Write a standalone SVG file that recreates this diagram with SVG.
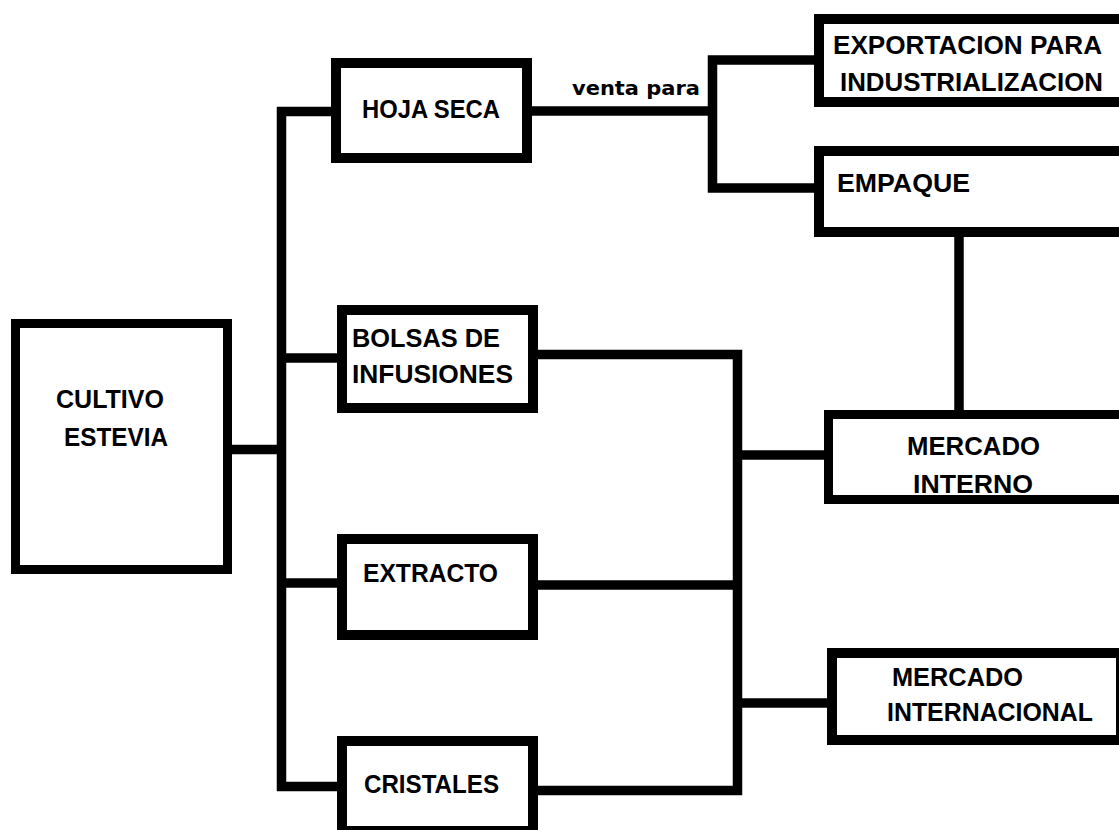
<svg xmlns="http://www.w3.org/2000/svg" width="1119" height="830" viewBox="0 0 1119 830">
<style>
.box{fill:#fff;stroke:#000;stroke-width:10}
.box9{fill:#fff;stroke:#000;stroke-width:9}
.ln{fill:none;stroke:#000;stroke-width:9.5;stroke-linejoin:miter;stroke-linecap:butt}
.t{font-family:"Liberation Sans",Arial,sans-serif;font-weight:bold;font-size:25px;fill:#000}
.s{font-family:"DejaVu Sans",Verdana,sans-serif;font-weight:bold;font-size:19px;fill:#000}
</style>
<rect width="1119" height="830" fill="#fff"/>
<g id="connectors">
<path class="ln" d="M232 449.5 H282"/>
<path class="ln" d="M331 111.5 H281.5 V786.5 H337"/>
<path class="ln" d="M282 358 H337"/>
<path class="ln" d="M282 583 H337"/>
<path class="ln" d="M532 111 H712.5"/>
<path class="ln" d="M814 60 H712.5 V188 H814"/>
<path class="ln" d="M959 237 V410"/>
<path class="ln" d="M538 354.5 H737.5 V790.5 H538"/>
<path class="ln" d="M538 585 H737.5"/>
<path class="ln" d="M737.5 455 H824"/>
<path class="ln" d="M737.5 703 H827"/>
<text class="s" x="572" y="95" textLength="128" lengthAdjust="spacingAndGlyphs">venta para</text>
</g>
<g id="cultivo">
<rect class="box9" x="15.5" y="323.5" width="212" height="246"/>
<text class="t" x="56" y="408" textLength="108" lengthAdjust="spacingAndGlyphs">CULTIVO</text>
<text class="t" x="64" y="446" textLength="104" lengthAdjust="spacingAndGlyphs">ESTEVIA</text>
</g>
<g id="hoja-seca">
<rect class="box" x="336" y="63" width="191" height="95"/>
<text class="t" x="362" y="118" textLength="138" lengthAdjust="spacingAndGlyphs">HOJA SECA</text>
</g>
<g id="bolsas">
<rect class="box" x="342" y="310" width="191" height="98"/>
<text class="t" x="352" y="347" textLength="148" lengthAdjust="spacingAndGlyphs">BOLSAS DE</text>
<text class="t" x="352" y="383" textLength="161" lengthAdjust="spacingAndGlyphs">INFUSIONES</text>
</g>
<g id="extracto">
<rect class="box" x="342" y="539" width="191" height="96"/>
<text class="t" x="363" y="582" textLength="135" lengthAdjust="spacingAndGlyphs">EXTRACTO</text>
</g>
<g id="cristales">
<rect class="box" x="342" y="741" width="191" height="90"/>
<text class="t" x="364" y="793" textLength="135" lengthAdjust="spacingAndGlyphs">CRISTALES</text>
</g>
<g id="exportacion">
<rect class="box" x="819" y="19" width="320" height="83"/>
<text class="t" x="833" y="54" textLength="269" lengthAdjust="spacingAndGlyphs">EXPORTACION PARA</text>
<text class="t" x="840" y="91" textLength="263" lengthAdjust="spacingAndGlyphs">INDUSTRIALIZACION</text>
</g>
<g id="empaque">
<rect class="box" x="819" y="151" width="320" height="81"/>
<text class="t" x="837" y="192" textLength="133" lengthAdjust="spacingAndGlyphs">EMPAQUE</text>
</g>
<g id="mercado-interno">
<rect class="box9" x="828.5" y="414.5" width="320" height="85"/>
<text class="t" x="907" y="455" textLength="133" lengthAdjust="spacingAndGlyphs">MERCADO</text>
<text class="t" x="913" y="493" textLength="120" lengthAdjust="spacingAndGlyphs">INTERNO</text>
</g>
<g id="mercado-internacional">
<rect class="box" x="832" y="653" width="289" height="87"/>
<text class="t" x="892" y="686" textLength="131" lengthAdjust="spacingAndGlyphs">MERCADO</text>
<text class="t" x="887" y="721" textLength="206" lengthAdjust="spacingAndGlyphs">INTERNACIONAL</text>
</g>
</svg>
